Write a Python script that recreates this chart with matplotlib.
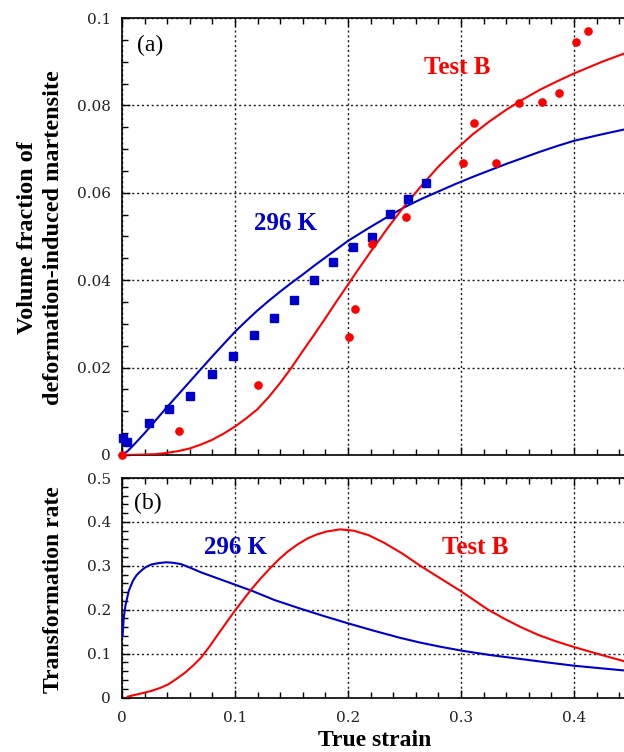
import matplotlib
matplotlib.use("Agg")
import matplotlib.pyplot as plt
from matplotlib.ticker import MultipleLocator, FixedLocator, FixedFormatter

# ---------------- data ----------------
# (a) measured points
sq_x = [0.001, 0.004, 0.024, 0.042, 0.060, 0.080, 0.0985, 0.117, 0.1345, 0.152, 0.170, 0.187, 0.204, 0.221, 0.237, 0.2535, 0.269]
sq_y = [0.0038, 0.0029, 0.0074, 0.0106, 0.0134, 0.0185, 0.0226, 0.0275, 0.0314, 0.0354, 0.0400, 0.0442, 0.0477, 0.0498, 0.0552, 0.0585, 0.0623]

ci_x = [0.0, 0.0507, 0.1206, 0.2012, 0.2062, 0.2215, 0.2513, 0.3015, 0.3115, 0.331, 0.3516, 0.372, 0.3865, 0.4018, 0.412]
ci_y = [0.0, 0.0056, 0.0161, 0.0269, 0.0333, 0.0483, 0.0544, 0.0668, 0.0760, 0.0668, 0.0805, 0.0808, 0.0828, 0.0945, 0.0971]

# (a) model curves
fa_blue_x = [0.0, 0.005, 0.01, 0.015, 0.02, 0.03, 0.04, 0.05, 0.06, 0.07, 0.08, 0.09, 0.10, 0.11, 0.12, 0.13,
             0.14, 0.15, 0.16, 0.17, 0.18, 0.19, 0.20, 0.21, 0.22, 0.235, 0.25, 0.265, 0.28, 0.295, 0.31,
             0.325, 0.34, 0.355, 0.37, 0.385, 0.40, 0.425, 0.45]
fa_blue_y = [0.0, 0.0009, 0.0022, 0.0036, 0.0050, 0.0080, 0.0110, 0.0139, 0.0168, 0.0197, 0.0226, 0.0254, 0.0282,
             0.0307, 0.0331, 0.0353, 0.0374, 0.0394, 0.0413, 0.0433, 0.0452, 0.0471, 0.0490, 0.0506, 0.0522,
             0.0545, 0.0567, 0.0586, 0.0603, 0.0620, 0.0636, 0.0651, 0.0666, 0.0680, 0.0694, 0.0707, 0.0719,
             0.0734, 0.0748]

fa_red_x = [0.0, 0.02, 0.03, 0.04, 0.05, 0.06, 0.07, 0.08, 0.09, 0.10, 0.11, 0.12, 0.13, 0.14, 0.15, 0.16, 0.17,
            0.18, 0.19, 0.20, 0.21, 0.22, 0.235, 0.25, 0.265, 0.28, 0.295, 0.31, 0.325, 0.34, 0.355, 0.37,
            0.385, 0.40, 0.425, 0.45]
fa_red_y = [0.0, 0.0001, 0.0002, 0.0005, 0.0009, 0.0015, 0.0024, 0.0035, 0.0049, 0.0065, 0.0084, 0.0105, 0.0133,
            0.0165, 0.0200, 0.0238, 0.0275, 0.0313, 0.0352, 0.0390, 0.0428, 0.0465, 0.0519, 0.0570, 0.0616,
            0.0660, 0.0698, 0.0733, 0.0763, 0.0790, 0.0814, 0.0836, 0.0855, 0.0873, 0.0900, 0.0924]

# (b) transformation rate curves
rb_blue_x = [0.0005, 0.0015, 0.003, 0.006, 0.0097, 0.013, 0.017, 0.021, 0.026, 0.032, 0.039, 0.045, 0.052, 0.060,
             0.070, 0.085, 0.100, 0.115, 0.135, 0.156, 0.178, 0.200, 0.223, 0.246, 0.264, 0.282, 0.300, 0.325,
             0.352, 0.376, 0.400, 0.422, 0.444, 0.45]
rb_blue_y = [0.140, 0.180, 0.209, 0.243, 0.266, 0.279, 0.289, 0.297, 0.303, 0.306, 0.308, 0.307, 0.304, 0.296,
             0.285, 0.271, 0.257, 0.243, 0.222, 0.204, 0.186, 0.169, 0.152, 0.136, 0.125, 0.1155, 0.107, 0.097,
             0.088, 0.080, 0.0724, 0.067, 0.0617, 0.0605]

rb_red_x = [0.005, 0.015, 0.026, 0.034, 0.041, 0.048, 0.056, 0.063, 0.070, 0.078, 0.085, 0.093, 0.100, 0.108,
            0.115, 0.123, 0.132, 0.139, 0.146, 0.155, 0.164, 0.172, 0.181, 0.193, 0.205, 0.218, 0.2316, 0.248,
            0.264, 0.282, 0.300, 0.312, 0.324, 0.338, 0.352, 0.368, 0.384, 0.400, 0.412, 0.423, 0.434, 0.444, 0.45]
rb_red_y = [0.002, 0.008, 0.015, 0.022, 0.030, 0.042, 0.057, 0.073, 0.091, 0.118, 0.144, 0.173, 0.198, 0.225,
            0.248, 0.272, 0.297, 0.315, 0.331, 0.348, 0.362, 0.371, 0.378, 0.383, 0.380, 0.370, 0.353, 0.328,
            0.300, 0.271, 0.242, 0.221, 0.200, 0.180, 0.1615, 0.143, 0.128, 0.115, 0.106, 0.098, 0.090, 0.083, 0.079]

xticks = [0, 0.1, 0.2, 0.3, 0.4]
xtick_labels = ["0", "0.1", "0.2", "0.3", "0.4"]
ya_ticks = [0, 0.02, 0.04, 0.06, 0.08, 0.1]
ya_labels = ["0", "0.02", "0.04", "0.06", "0.08", "0.1"]
yb_ticks = [0, 0.1, 0.2, 0.3, 0.4, 0.5]
yb_labels = ["0", "0.1", "0.2", "0.3", "0.4", "0.5"]

BLUE = "#0000cc"
RED = "#ff0000"
SERIF = ["Liberation Serif", "DejaVu Serif"]
TICKFONT = "DejaVu Serif"

W, H = 624, 752
fig = plt.figure(figsize=(W / 100, H / 100), dpi=100)

def px_axes(left, top, right_px, bottom):
    return [left / W, 1 - bottom / H, (right_px - left) / W, (bottom - top) / H]

x_per_unit = 1130.0
right_px = 122 + 0.45 * x_per_unit
axa = fig.add_axes(px_axes(122, 18, right_px, 455))
axb = fig.add_axes(px_axes(122, 478, right_px, 697.5))

def style(ax, yt, yl, yminor, ymax, show_xlabels):
    ax.set_xlim(0, 0.45)
    ax.set_ylim(0, ymax)
    ax.xaxis.set_major_locator(FixedLocator(xticks))
    ax.xaxis.set_minor_locator(MultipleLocator(0.02))
    ax.yaxis.set_major_locator(FixedLocator(yt))
    ax.yaxis.set_major_formatter(FixedFormatter(yl))
    ax.yaxis.set_minor_locator(MultipleLocator(yminor))
    if show_xlabels:
        ax.xaxis.set_major_formatter(FixedFormatter(xtick_labels))
    else:
        ax.xaxis.set_major_formatter(FixedFormatter([""] * len(xticks)))
    ax.tick_params(which="both", direction="in", top=True, right=False,
                   width=1.0, colors="black", labelcolor="#222222")
    ax.tick_params(which="major", length=6)
    ax.tick_params(which="minor", length=4)
    ax.tick_params(axis="y", pad=8)
    ax.tick_params(axis="x", pad=10)
    for lab in ax.get_xticklabels() + ax.get_yticklabels():
        lab.set_fontfamily(TICKFONT)
        lab.set_fontsize(11)
    for s in ["left", "top", "bottom"]:
        ax.spines[s].set_linewidth(1.2)
    ax.spines["right"].set_visible(False)
    ax.grid(True, which="major", color="0.1", linestyle=(0, (1.5, 2.0)), linewidth=1.0)
    ax.set_axisbelow(True)

style(axa, ya_ticks, ya_labels, 0.005, 0.1, False)
style(axb, yb_ticks, yb_labels, 0.02, 0.5, True)

# (a)
axa.plot(fa_blue_x, fa_blue_y, color=BLUE, lw=1.5, zorder=3)
axa.plot(fa_red_x, fa_red_y, color=RED, lw=1.5, zorder=3)
axa.plot(sq_x, sq_y, linestyle="none", marker="s", ms=6.3, color=BLUE, clip_on=False, zorder=4)
axa.plot(ci_x, ci_y, linestyle="none", marker="o", ms=5.2, color=RED, clip_on=False, zorder=4)

fig.text(150 / W, 1 - 45 / H, "(a)", fontsize=17, family=SERIF, ha="center", va="center")
fig.text(457 / W, 1 - 68 / H, "Test B", color=RED, fontsize=18, fontweight="bold", family=SERIF, ha="center", va="center")
fig.text(286 / W, 1 - 223 / H, "296 K", color=BLUE, fontsize=18, fontweight="bold", family=SERIF, ha="center", va="center")

# (b)
axb.plot(rb_blue_x, rb_blue_y, color=BLUE, lw=1.5, zorder=3)
axb.plot(rb_red_x, rb_red_y, color=RED, lw=1.5, zorder=3)

fig.text(148 / W, 1 - 503 / H, "(b)", fontsize=17, family=SERIF, ha="center", va="center")
fig.text(235 / W, 1 - 547 / H, "296 K", color=BLUE, fontsize=18, fontweight="bold", family=SERIF, ha="center", va="center")
fig.text(475 / W, 1 - 548 / H, "Test B", color=RED, fontsize=18, fontweight="bold", family=SERIF, ha="center", va="center")

# axis labels
fig.text(28 / W, 1 - 238 / H, "Volume fraction of", rotation=90, fontsize=17.5, fontweight="bold",
         family=SERIF, ha="center", va="center")
fig.text(54 / W, 1 - 238 / H, "deformation-induced martensite", rotation=90, fontsize=17.5, fontweight="bold",
         family=SERIF, ha="center", va="center")
fig.text(54 / W, 1 - 590 / H, "Transformation rate", rotation=90, fontsize=17, fontweight="bold",
         family=SERIF, ha="center", va="center")
fig.text(375 / W, 1 - 740 / H, "True strain", fontsize=17, fontweight="bold",
         family=SERIF, ha="center", va="center")

fig.savefig("out.png", dpi=100)
